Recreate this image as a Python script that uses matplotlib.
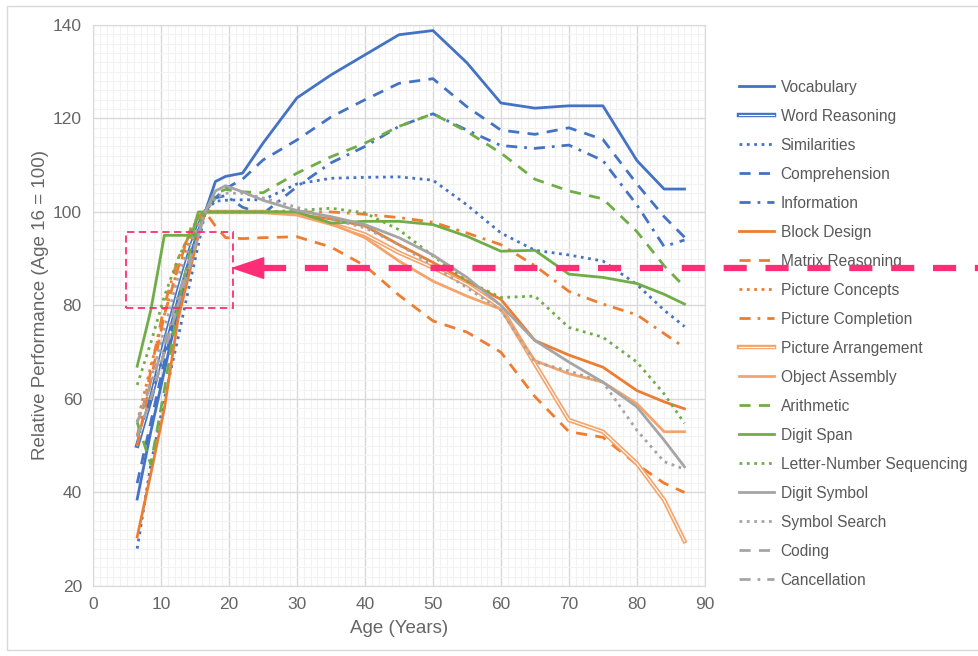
import numpy as np
import matplotlib.pyplot as plt
import matplotlib.patheffects as pe
from matplotlib.patches import Rectangle, Polygon
from matplotlib.ticker import MultipleLocator

plt.rcParams['font.family'] = ['Liberation Sans', 'DejaVu Sans']

nan = np.nan

ages = [6.5, 8.5, 10.5, 12.5, 14.5, 15.5, 16.5, 18, 19.5, 22, 25, 30, 35, 40,
        45, 50, 55, 60, 65, 70, 75, 80, 84, 87]

vocabulary = [38.6, 53, 66, 79, 91, 96, 100, 106.5, 107.6, 108.3, 114.7, 124.4, 129.3, 133.6,
              137.9, 138.8, 131.9, 123.3, 122.2, 122.7, 122.7, 111, 104.9, 104.9]
word_reasoning = [50, 60, 72, 83, 93, 97, 100] + [nan] * 17
similarities = [28, 46, 60, 73, 86.5, 93, 100, 102.3, 102.5, 102.6, 102.6, 106, 107.2, 107.4,
                107.5, 106.8, 101.5, 95.5, 91.8, 90.8, 89.5, 84.5, 79, 75.5]
comprehension = [42, 55, 68, 80, 91, 96, 100, 103, 105, 107, 111.1, 115.4, 120.3, 124,
                 127.5, 128.5, 122.5, 117.5, 116.6, 118, 115.5, 106, 99, 94.6]
information = [52, 60, 70, 81, 91, 96, 100, 103, 103.5, 101, 99.6, 105.4, 110.5, 114,
               118.3, 121, 117.5, 114.2, 113.6, 114.3, 111, 101.5, 92.6, 94]
block_design = [30.5, 44, 58, 77, 89, 95, 100, 100, 100, 100, 100, 99.5, 98.5, 97,
                93, 89.2, 85.2, 81.3, 72.5, 69.4, 66.8, 61.8, 59.4, 57.9]
matrix_reasoning = [50, 64, 78, 88, 97, 99, 100, 97, 94.5, 94.3, 94.5, 94.7, 92.5, 88.5,
                    82.2, 76.7, 74.3, 70, 60.5, 53, 51.8, 46, 42, 40]
picture_concepts = [55, 67, 78, 88, 95, 98, 100] + [nan] * 17
picture_completion = [52, 66, 80, 90, 96, 99, 100, 100, 100, 100, 100, 100, 100, 99.5,
                      98.8, 97.8, 95.5, 93, 88.5, 83, 80.3, 78, 74, 71]
picture_arrangement = [nan] * 6 + [100, 100, 100, 100, 100, 99.5, 97.5, 95.2,
                                   91.3, 88.1, 84.5, 79.6, 67.5, 55.5, 53, 46.2, 38.4, 29.6]
object_assembly = [nan] * 6 + [100, 100, 100, 100, 100, 99.5, 97.5, 94.5,
                               89.5, 85.2, 82, 79.2, 68.2, 65.4, 63.6, 59, 53, 53]
arithmetic = [55, 46, 62, 80, 93, 97, 100, 104, 104.8, 104.3, 104.1, 108.3, 111.8, 114.7,
              118.3, 121, 117.2, 112.6, 107, 104.5, 102.8, 95.8, 88.5, 84]
digit_span = [67, 79, 95, 95, 95, 100, 100, 100, 100, 100, 100, 100, 97.6, 98,
              98, 97.3, 94.8, 91.6, 91.8, 86.7, 86, 84.7, 82.4, 80.3]
letter_number = [63, 72, 82, 90, 96, 99, 100, 100, 100, 100, 100, 100.3, 100.8, 99.8,
                 96.2, 90.6, 85.2, 81.7, 82, 75.3, 73.2, 67.9, 61.1, 54.8]
digit_symbol = [nan] * 6 + [100, 104.5, 105.6, 104.3, 102.5, 100.3, 99, 97.3,
                            94.5, 90.8, 86, 80, 72.5, 67.9, 63.6, 58.3, 51.2, 45.5]
symbol_search = [55, 64, 75, 86, 94, 97, 100, 103, 104, 104, 103, 101, 98.5, 96.6,
                 93, 88.5, 83.8, 79, 67.9, 66, 63.6, 53.3, 46.6, 45]
coding = [52, 60, 70, 80, 90, 95, 100] + [nan] * 17
cancellation = [55, 63, 72, 82, 91, 95, 100] + [nan] * 17

BLUE = '#4472C4'
ORANGE = '#ED7D31'
LORANGE = '#F4A46B'
GREEN = '#70AD47'
GREY = '#A5A5A5'
PINK = '#FF2D75'

dashdot = (0, (4, 2.5, 1, 2.5))
series = [
    ("Vocabulary", vocabulary, BLUE, '-', False),
    ("Word Reasoning", word_reasoning, BLUE, '-', True),
    ("Similarities", similarities, BLUE, ':', False),
    ("Comprehension", comprehension, BLUE, (0, (4, 3)), False),
    ("Information", information, BLUE, dashdot, False),
    ("Block Design", block_design, ORANGE, '-', False),
    ("Matrix Reasoning", matrix_reasoning, ORANGE, (0, (4, 3)), False),
    ("Picture Concepts", picture_concepts, ORANGE, ':', False),
    ("Picture Completion", picture_completion, ORANGE, dashdot, False),
    ("Picture Arrangement", picture_arrangement, LORANGE, '-', True),
    ("Object Assembly", object_assembly, LORANGE, '-', False),
    ("Arithmetic", arithmetic, GREEN, (0, (4, 3)), False),
    ("Digit Span", digit_span, GREEN, '-', False),
    ("Letter-Number Sequencing", letter_number, GREEN, ':', False),
    ("Digit Symbol", digit_symbol, GREY, '-', False),
    ("Symbol Search", symbol_search, GREY, ':', False),
    ("Coding", coding, GREY, (0, (4, 3)), False),
    ("Cancellation", cancellation, GREY, dashdot, False),
]

fig = plt.figure(figsize=(9.79, 6.56), dpi=100)
ax = fig.add_axes([0.095, 0.1067, 0.625, 0.8553])

for name, vals, color, ls, double in series:
    if double:
        ax.plot(ages, vals, color='white', lw=0.8, label=name,
                path_effects=[pe.Stroke(linewidth=3.2, foreground=color), pe.Normal()])
    else:
        ax.plot(ages, vals, color=color, lw=2.0, ls=ls, label=name)

ax.set_xlim(0, 90)
ax.set_ylim(20, 140)
ax.xaxis.set_major_locator(MultipleLocator(10))
ax.yaxis.set_major_locator(MultipleLocator(20))
ax.xaxis.set_minor_locator(MultipleLocator(1))
ax.yaxis.set_minor_locator(MultipleLocator(2))
ax.grid(which='major', color='#D9D9D9', lw=1.0)
ax.grid(which='minor', color='#F2F2F2', lw=0.8)
ax.set_axisbelow(True)
ax.tick_params(which='both', length=0, labelsize=12.5, labelcolor='#666666', pad=8)
for s in ax.spines.values():
    s.set_color('#D9D9D9')

ax.set_xlabel("Age (Years)", fontsize=13.5, color='#666666', labelpad=6)
ax.set_ylabel("Relative Performance (Age 16 = 100)", fontsize=13.5, color='#666666', labelpad=3)

ax.legend(loc='upper left', bbox_to_anchor=(0.748, 0.888), bbox_transform=fig.transFigure,
          frameon=False, fontsize=11.2, labelcolor='#595959', handlelength=2.3,
          handletextpad=0.4, labelspacing=0.9, borderaxespad=0)

# highlighted region and arrow
ax.add_patch(Rectangle((4.9, 79.5), 15.7, 16.2, fill=False, ec=PINK, lw=1.3,
                       ls=(0, (4, 2.5)), clip_on=False, zorder=5))
ax.plot([25, 131], [88, 88], color=PINK, lw=4.5, ls=(0, (3.7, 3.0)),
        clip_on=False, solid_capstyle='butt', zorder=6)
ax.add_patch(Polygon([[20.6, 88], [25.1, 90.2], [25.1, 85.8]], closed=True,
                     color=PINK, clip_on=False, zorder=6))

# outer chart border
fig.patches.append(Rectangle((7 / 979, 6 / 656), 1.1, 644 / 656, fill=False,
                             ec='#D9D9D9', lw=1.0, transform=fig.transFigure))

fig.savefig("out.png", dpi=100)
